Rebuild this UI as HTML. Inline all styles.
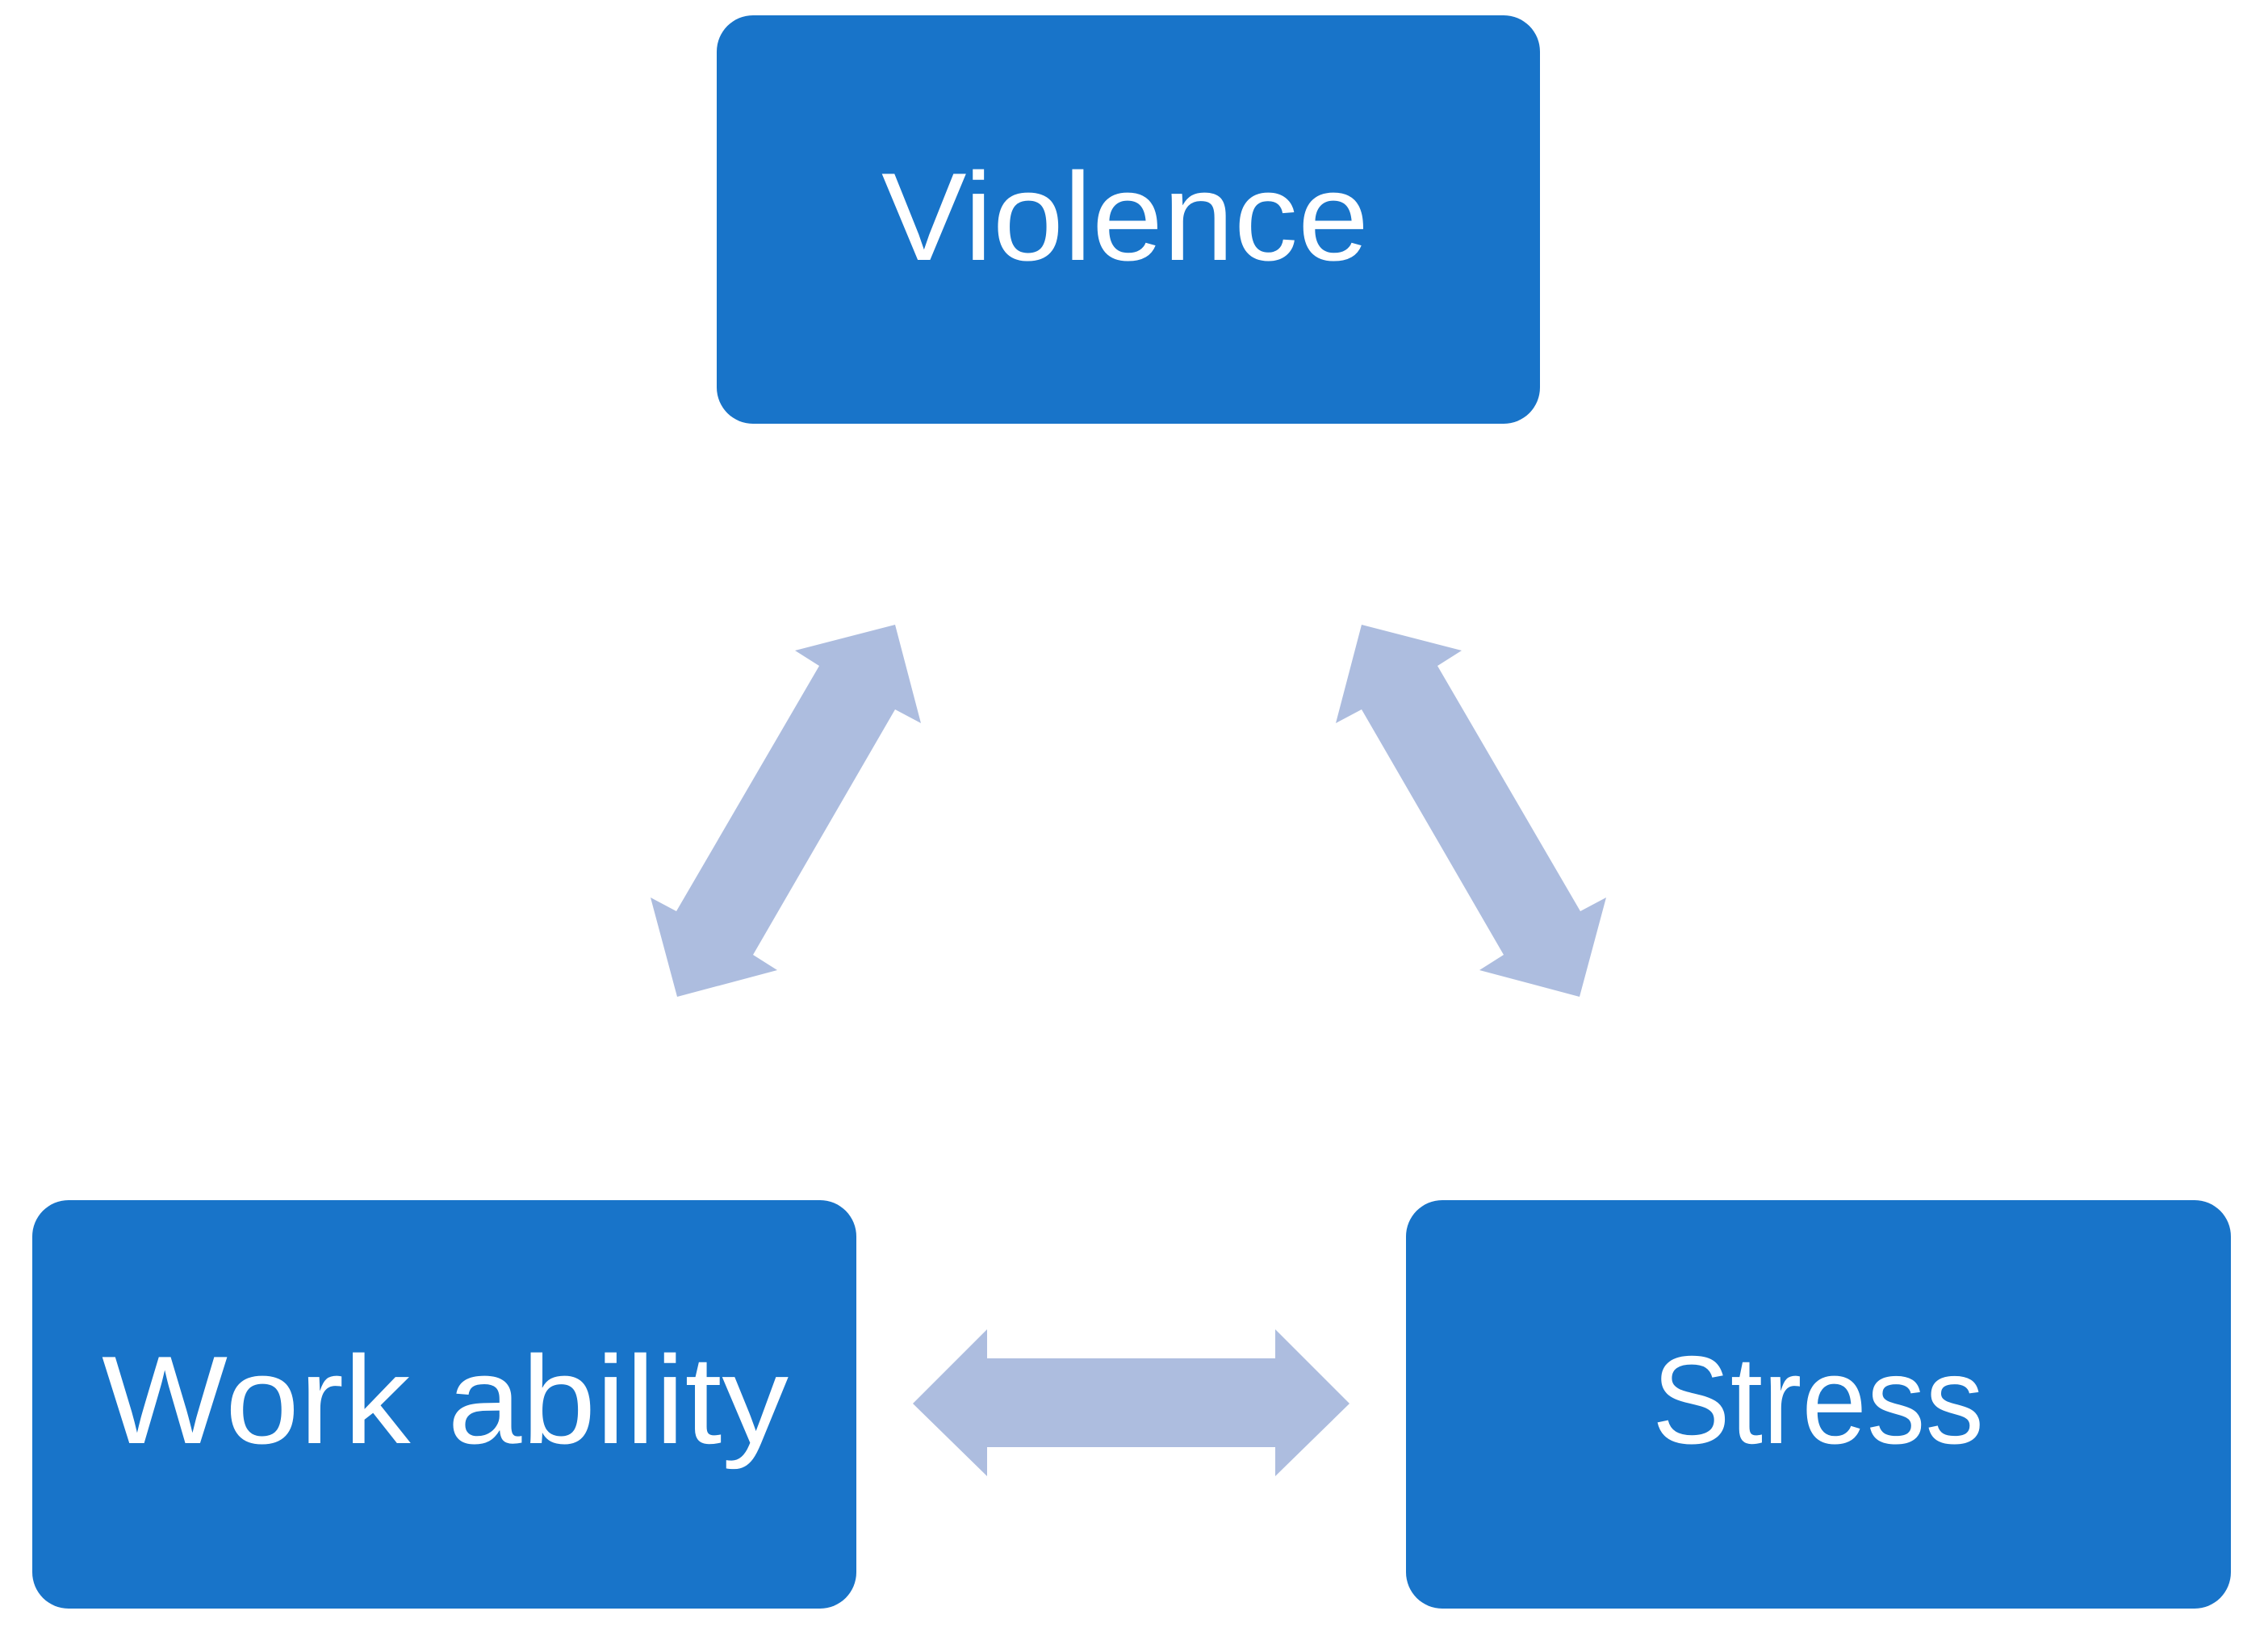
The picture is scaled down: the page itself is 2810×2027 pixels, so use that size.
<!DOCTYPE html>
<html><head><meta charset="utf-8"><style>
html,body{margin:0;padding:0;background:#fff;}
svg{display:block;}
</style></head><body>
<svg width="2810" height="2027" viewBox="0 0 2810 2027" xmlns="http://www.w3.org/2000/svg">
<rect x="888" y="19" width="1020" height="506" rx="45" ry="45" fill="#1874C9"/>
<rect x="40" y="1487" width="1021" height="506" rx="45" ry="45" fill="#1874C9"/>
<rect x="1742" y="1487" width="1022" height="506" rx="45" ry="45" fill="#1874C9"/>
<g fill="#ADBDDF">
<polygon points="1109,774 1141,896 1109,879 933,1183 963,1202 839,1235 806,1112 838,1129 1015,825 985,806"/>
<polygon points="1687,774 1655,896 1687,879 1863,1183 1833,1202 1957,1235 1990,1112 1958,1129 1781,825 1811,806"/>
<polygon points="1131,1739 1223,1647 1223,1683 1580,1683 1580,1647 1672,1739 1580,1829 1580,1793 1223,1793 1223,1829"/>
</g>
<g fill="#fff" font-family="'Liberation Sans', sans-serif" font-size="155">
<text x="1092" y="322" textLength="604" lengthAdjust="spacingAndGlyphs">Violence</text>
<text x="126" y="1788" textLength="851" lengthAdjust="spacingAndGlyphs">Work ability</text>
<text x="2047" y="1788" textLength="411" lengthAdjust="spacingAndGlyphs">Stress</text>
</g>
</svg>
</body></html>
